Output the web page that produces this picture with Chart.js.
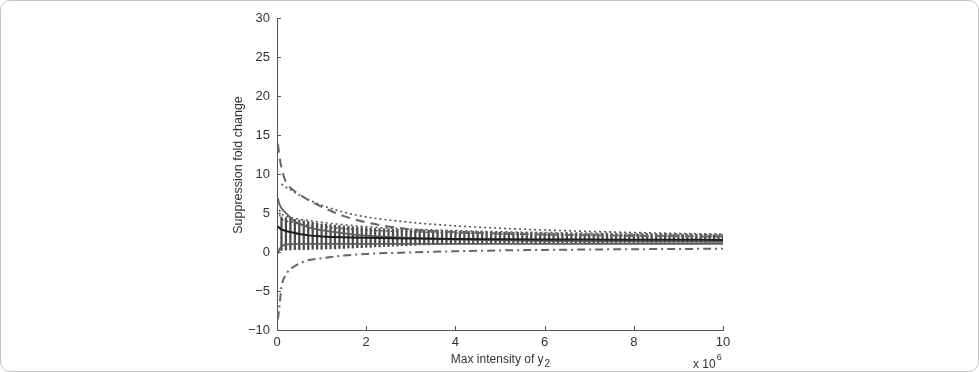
<!DOCTYPE html>
<html>
<head>
<meta charset="utf-8">
<script src="https://cdn.jsdelivr.net/npm/chart.js@4"></script>
<style>
  html, body { margin: 0; padding: 0; background: #fff; }
  #wrap { position: relative; width: 979px; height: 372px; }
  #edge { position: absolute; left: 0; top: 0; width: 979px; height: 372px; box-sizing: border-box;
          border: 1px solid #c4c4c4; border-radius: 10px; pointer-events: none; }
  canvas { position: absolute; left: 0; top: 0; }
</style>
</head>
<body>
<div id="wrap">
  <canvas id="fold" width="979" height="372"></canvas>
  <div id="edge"></div>
</div>
<script>
// x in units of 10^6
const xPts = [0.02, 0.05, 0.1, 0.2, 0.35, 0.5, 0.75, 1, 1.5, 2, 3, 4, 5, 6, 7, 8, 9, 10];

const topDotted   = [null, null, 8.7, 8.3, 7.8, 7.3, 6.6, 6.0, 5.1, 4.5, 3.8, 3.35, 3.05, 2.82, 2.64, 2.5, 2.38, 2.28];
const longDash    = [13.9, 12.5, 10.8, 9.0, 8.0, 7.4, 6.5, 5.8, 4.6, 3.8, 2.9, 2.55, 2.38, 2.25, 2.15, 2.08, 2.02, 1.98];
const dashDotLow  = [-8.6, -7.2, -4.5, -2.9, -2.0, -1.5, -1.0, -0.8, -0.45, -0.25, -0.05, 0.1, 0.2, 0.27, 0.32, 0.36, 0.39, 0.42];
const meanLine    = [3.3, 3.1, 2.9, 2.7, 2.5, 2.3, 2.1, 2.0, 1.88, 1.82, 1.74, 1.68, 1.64, 1.61, 1.59, 1.57, 1.56, 1.55];
const graySolidHi = [6.9, 6.2, 5.6, 5.0, 4.1, 3.6, 3.1, 2.8, 2.4, 2.1, 1.8, 1.6, 1.5, 1.43, 1.38, 1.35, 1.32, 1.3];
const graySolidLo = [-0.2, 0.3, 0.7, 0.95, 1.02, 1.05, 1.05, 1.05, 1.05, 1.05, 1.05, 1.05, 1.05, 1.05, 1.05, 1.05, 1.05, 1.05];
const dottedA     = [null, 5.4, 4.9, 4.6, 4.4, 4.2, 4.0, 3.8, 3.5, 3.25, 2.95, 2.75, 2.6, 2.5, 2.42, 2.35, 2.28, 2.22];
const dottedB     = [null, 4.8, 4.3, 4.0, 3.8, 3.6, 3.4, 3.25, 3.0, 2.8, 2.6, 2.45, 2.32, 2.22, 2.15, 2.08, 2.02, 1.98];

// error bars, one every 0.1 (x10^6)
const barX = [
  0.1, 0.2, 0.3, 0.4, 0.5, 0.6, 0.7, 0.8, 0.9, 1.0,
  1.1, 1.2, 1.3, 1.4, 1.5, 1.6, 1.7, 1.8, 1.9, 2.0,
  2.1, 2.2, 2.3, 2.4, 2.5, 2.6, 2.7, 2.8, 2.9, 3.0,
  3.1, 3.2, 3.3, 3.4, 3.5, 3.6, 3.7, 3.8, 3.9, 4.0,
  4.1, 4.2, 4.3, 4.4, 4.5, 4.6, 4.7, 4.8, 4.9, 5.0,
  5.1, 5.2, 5.3, 5.4, 5.5, 5.6, 5.7, 5.8, 5.9, 6.0,
  6.1, 6.2, 6.3, 6.4, 6.5, 6.6, 6.7, 6.8, 6.9, 7.0,
  7.1, 7.2, 7.3, 7.4, 7.5, 7.6, 7.7, 7.8, 7.9, 8.0,
  8.1, 8.2, 8.3, 8.4, 8.5, 8.6, 8.7, 8.8, 8.9, 9.0,
  9.1, 9.2, 9.3, 9.4, 9.5, 9.6, 9.7, 9.8, 9.9, 10.0
];
const barHi = [
  4.5, 4.4, 4.3, 4.2, 4.1, 4.0, 3.9, 3.8, 3.7, 3.6,
  3.55, 3.5, 3.45, 3.4, 3.35, 3.3, 3.25, 3.2, 3.15, 3.1,
  3.07, 3.04, 3.01, 2.98, 2.96, 2.94, 2.92, 2.9, 2.88, 2.86,
  2.84, 2.82, 2.81, 2.79, 2.78, 2.76, 2.75, 2.73, 2.72, 2.7,
  2.68, 2.67, 2.65, 2.64, 2.62, 2.61, 2.6, 2.58, 2.57, 2.55,
  2.54, 2.53, 2.52, 2.51, 2.5, 2.49, 2.48, 2.47, 2.46, 2.45,
  2.44, 2.43, 2.42, 2.41, 2.4, 2.39, 2.38, 2.37, 2.36, 2.35,
  2.34, 2.33, 2.33, 2.32, 2.31, 2.31, 2.3, 2.29, 2.29, 2.28,
  2.27, 2.27, 2.26, 2.26, 2.25, 2.25, 2.24, 2.23, 2.23, 2.22,
  2.21, 2.21, 2.2, 2.2, 2.19, 2.18, 2.18, 2.17, 2.17, 2.16
];
const barLo = [
  0.2, 0.25, 0.25, 0.3, 0.3, 0.3, 0.3, 0.35, 0.35, 0.35,
  0.4, 0.4, 0.4, 0.45, 0.45, 0.5, 0.5, 0.55, 0.55, 0.6,
  0.6, 0.65, 0.65, 0.7, 0.7, 0.75, 0.75, 0.8, 0.8, 0.85,
  0.85, 0.9, 0.9, 0.9, 0.95, 0.95, 0.95, 1.0, 1.0, 1.0,
  1.0, 1.02, 1.02, 1.04, 1.04, 1.06, 1.06, 1.08, 1.08, 1.1,
  1.1, 1.1, 1.12, 1.12, 1.12, 1.14, 1.14, 1.14, 1.15, 1.15,
  1.15, 1.16, 1.16, 1.16, 1.17, 1.17, 1.17, 1.18, 1.18, 1.18,
  1.19, 1.19, 1.19, 1.2, 1.2, 1.2, 1.2, 1.21, 1.21, 1.21,
  1.21, 1.22, 1.22, 1.22, 1.22, 1.23, 1.23, 1.23, 1.23, 1.24,
  1.24, 1.24, 1.24, 1.25, 1.25, 1.25, 1.25, 1.25, 1.26, 1.26
];

const xTicks = [0, 2, 4, 6, 8, 10];
const yTicks = [-10, -5, 0, 5, 10, 15, 20, 25, 30];

const FONT = "'Liberation Sans', Arial, sans-serif";

function curve(vals, color, width, dash, order) {
  return {
    type: 'line',
    data: xPts.map((x, i) => ({ x: x, y: vals[i] })),
    borderColor: color,
    borderWidth: width,
    borderDash: dash,
    pointRadius: 0,
    fill: false,
    cubicInterpolationMode: 'monotone',
    order: order
  };
}

// inward ticks + axis texts (matlab look)
const matlabBits = {
  id: 'matlabBits',
  afterDraw(chart) {
    const { ctx, chartArea: a, scales: { x, y } } = chart;
    ctx.save();
    ctx.strokeStyle = '#555';
    ctx.lineWidth = 1;
    ctx.beginPath();
    xTicks.forEach(v => {
      const px = Math.round(x.getPixelForValue(v)) + 0.5;
      ctx.moveTo(px, a.bottom);
      ctx.lineTo(px, a.bottom - 4);
    });
    yTicks.forEach(v => {
      const py = Math.round(y.getPixelForValue(v)) + 0.5;
      ctx.moveTo(a.left, py);
      ctx.lineTo(a.left + 4, py);
    });
    ctx.stroke();

    ctx.fillStyle = '#333';
    ctx.textBaseline = 'alphabetic';

    // x title with subscript
    ctx.font = '12px ' + FONT;
    const main = 'Max intensity of y';
    const w1 = ctx.measureText(main).width;
    ctx.font = '10px ' + FONT;
    const w2 = ctx.measureText('2').width;
    const sx = 500 - (w1 + w2) / 2;
    ctx.font = '12px ' + FONT;
    ctx.textAlign = 'left';
    ctx.fillText(main, sx, 363);
    ctx.font = '10px ' + FONT;
    ctx.fillText('2', sx + w1 + 1, 367);

    // x 10^6
    ctx.font = '12px ' + FONT;
    ctx.fillText('x 10', 693, 368);
    const w3 = ctx.measureText('x 10').width;
    ctx.font = '9px ' + FONT;
    ctx.fillText('6', 693 + w3 + 1, 360);

    // y title
    ctx.translate(239, 165);
    ctx.rotate(-Math.PI / 2);
    ctx.font = '12.5px ' + FONT;
    ctx.textAlign = 'center';
    ctx.textBaseline = 'middle';
    ctx.fillText('Suppression fold change', 0, 0);
    ctx.restore();
  }
};

document.addEventListener('DOMContentLoaded', function() {
  const ctx = document.getElementById('fold').getContext('2d');

  const datasets = [
    {
      type: 'bar',
      data: barX.map((x, i) => ({ x: x, y: [barLo[i], barHi[i]] })),
      backgroundColor: 'rgba(55,55,55,0.9)',
      barThickness: 1.6,
      grouped: false,
      order: 10
    },
    curve(dottedA, '#555', 1.5, [2, 3], 6),
    curve(dottedB, '#555', 1.5, [2, 3], 6),
    curve(graySolidLo, '#5e5e5e', 1.8, [], 5),
    curve(graySolidHi, '#5e5e5e', 1.8, [], 5),
    curve(topDotted, '#555', 1.6, [2, 3], 4),
    curve(longDash, '#666', 2, [9, 6], 3),
    curve(dashDotLow, '#666', 2, [8, 4, 2, 4], 2),
    curve(meanLine, '#1e1e1e', 2, [], 1)
  ];

  new Chart(ctx, {
    type: 'line',
    data: { datasets: datasets },
    options: {
      responsive: false,
      animation: false,
      layout: { padding: { left: 0, right: 256, top: 18, bottom: 0 } },
      plugins: { legend: { display: false }, tooltip: { enabled: false } },
      scales: {
        x: {
          type: 'linear',
          min: 0, max: 10,
          offset: false,
          grid: { display: false, drawTicks: false },
          border: { display: true, color: '#555', width: 1 },
          ticks: { stepSize: 2, padding: 5, color: '#333', font: { family: FONT, size: 13 } },
          afterFit(s) { s.height = 42; }
        },
        y: {
          min: -10, max: 30,
          grid: { display: false, drawTicks: false },
          border: { display: true, color: '#555', width: 1 },
          ticks: {
            stepSize: 5, padding: 7, color: '#333', font: { family: FONT, size: 13 },
            callback: v => (v < 0 ? '\u2212' + Math.abs(v) : String(v))
          },
          afterFit(s) { s.width = 277; }
        }
      }
    },
    plugins: [matlabBits]
  });
});
</script>
</body>
</html>
